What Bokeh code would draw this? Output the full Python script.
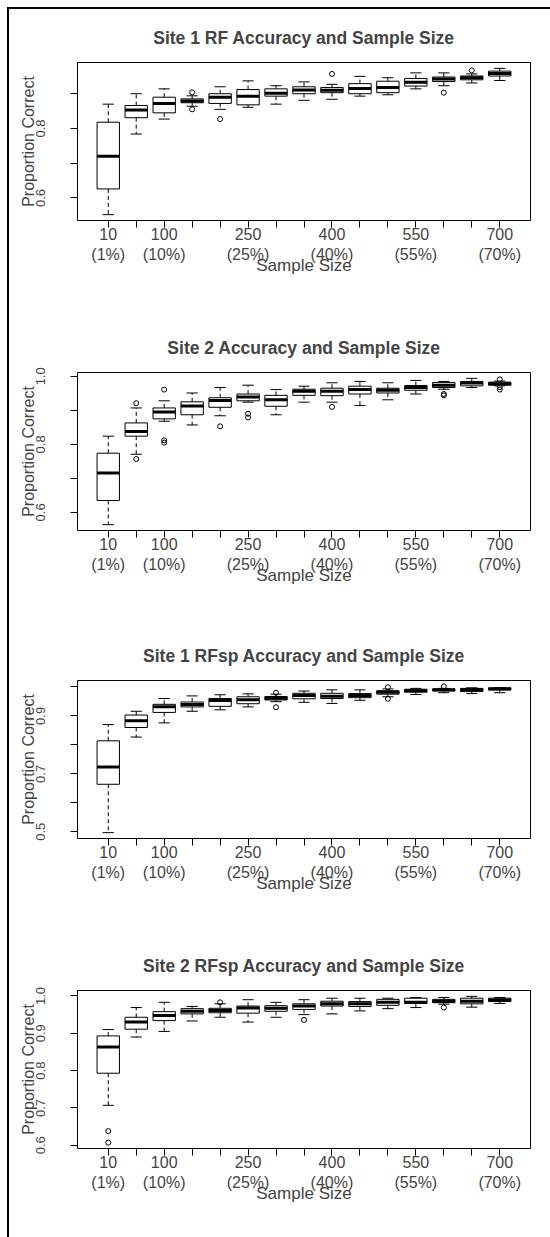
from bokeh.plotting import figure
from bokeh.layouts import column
from bokeh.models import FixedTicker, Range1d
from bokeh.embed import file_html
from bokeh.resources import INLINE

# ---------------- data ----------------
sample_sizes = [10, 50, 100, 150, 200, 250, 300, 350, 400, 450, 500, 550, 600, 650, 700]
labelled_sizes = [10, 100, 250, 400, 550, 700]
population = 1000

# Site 1 RF
s1rf_title = "Site 1 RF Accuracy and Sample Size"
s1rf_low = [0.552, 0.784, 0.827, 0.864, 0.855, 0.861, 0.870, 0.881, 0.884, 0.893, 0.897, 0.914, 0.923, 0.931, 0.938]
s1rf_q1 = [0.626, 0.831, 0.845, 0.874, 0.872, 0.868, 0.893, 0.900, 0.903, 0.900, 0.903, 0.922, 0.935, 0.940, 0.951]
s1rf_med = [0.720, 0.853, 0.872, 0.879, 0.890, 0.893, 0.901, 0.911, 0.910, 0.915, 0.918, 0.933, 0.942, 0.946, 0.958]
s1rf_q3 = [0.818, 0.866, 0.890, 0.885, 0.900, 0.912, 0.914, 0.920, 0.918, 0.929, 0.936, 0.944, 0.948, 0.951, 0.965]
s1rf_high = [0.870, 0.900, 0.914, 0.894, 0.920, 0.937, 0.923, 0.934, 0.927, 0.950, 0.946, 0.960, 0.960, 0.957, 0.973]
s1rf_out_size = [150, 150, 200, 400, 600, 650]
s1rf_out_val = [0.904, 0.855, 0.827, 0.957, 0.903, 0.967]
s1rf_yticks = [0.6, 0.7, 0.8, 0.9]
s1rf_yshown = [0.6, 0.8]

# Site 2 RF
s2rf_title = "Site 2 Accuracy and Sample Size"
s2rf_low = [0.564, 0.771, 0.868, 0.857, 0.884, 0.924, 0.887, 0.924, 0.924, 0.914, 0.931, 0.948, 0.962, 0.967, 0.972]
s2rf_q1 = [0.635, 0.824, 0.875, 0.887, 0.909, 0.928, 0.912, 0.944, 0.943, 0.948, 0.951, 0.959, 0.967, 0.972, 0.974]
s2rf_med = [0.716, 0.838, 0.895, 0.913, 0.929, 0.939, 0.931, 0.956, 0.956, 0.961, 0.959, 0.967, 0.974, 0.980, 0.978]
s2rf_q3 = [0.774, 0.863, 0.907, 0.925, 0.937, 0.948, 0.944, 0.962, 0.965, 0.971, 0.965, 0.973, 0.982, 0.985, 0.983]
s2rf_high = [0.824, 0.907, 0.928, 0.951, 0.967, 0.974, 0.961, 0.971, 0.981, 0.985, 0.981, 0.988, 0.985, 0.994, 0.986]
s2rf_out_size = [50, 50, 100, 100, 100, 200, 250, 250, 400, 600, 600, 700, 700, 700]
s2rf_out_val = [0.921, 0.757, 0.961, 0.812, 0.805, 0.853, 0.890, 0.879, 0.910, 0.948, 0.944, 0.991, 0.968, 0.961]
s2rf_yticks = [0.6, 0.7, 0.8, 0.9, 1.0]
s2rf_yshown = [0.6, 0.8, 1.0]

# Site 1 RFsp
s1sp_title = "Site 1 RFsp Accuracy and Sample Size"
s1sp_low = [0.497, 0.827, 0.876, 0.916, 0.921, 0.931, 0.949, 0.947, 0.943, 0.954, 0.966, 0.974, 0.980, 0.977, 0.980]
s1sp_q1 = [0.664, 0.860, 0.912, 0.931, 0.933, 0.942, 0.955, 0.959, 0.960, 0.963, 0.975, 0.982, 0.986, 0.984, 0.990]
s1sp_med = [0.724, 0.883, 0.932, 0.939, 0.953, 0.956, 0.961, 0.970, 0.968, 0.970, 0.982, 0.987, 0.990, 0.991, 0.993]
s1sp_q3 = [0.814, 0.903, 0.940, 0.948, 0.960, 0.966, 0.967, 0.978, 0.978, 0.977, 0.987, 0.992, 0.993, 0.995, 0.997]
s1sp_high = [0.870, 0.916, 0.960, 0.969, 0.973, 0.976, 0.975, 0.986, 0.990, 0.990, 0.993, 0.995, 0.995, 0.997, 0.998]
s1sp_out_size = [300, 300, 500, 500, 600]
s1sp_out_val = [0.980, 0.930, 0.999, 0.959, 1.002]
s1sp_yticks = [0.5, 0.6, 0.7, 0.8, 0.9, 1.0]
s1sp_yshown = [0.5, 0.7, 0.9]

# Site 2 RFsp
s2sp_title = "Site 2 RFsp Accuracy and Sample Size"
s2sp_low = [0.707, 0.890, 0.905, 0.933, 0.943, 0.930, 0.943, 0.950, 0.952, 0.960, 0.966, 0.969, 0.978, 0.970, 0.980]
s2sp_q1 = [0.793, 0.911, 0.934, 0.952, 0.955, 0.954, 0.959, 0.964, 0.973, 0.972, 0.975, 0.980, 0.982, 0.979, 0.985]
s2sp_med = [0.863, 0.930, 0.948, 0.959, 0.961, 0.968, 0.967, 0.973, 0.979, 0.979, 0.983, 0.983, 0.986, 0.986, 0.989]
s2sp_q3 = [0.893, 0.943, 0.958, 0.966, 0.967, 0.973, 0.974, 0.979, 0.986, 0.985, 0.991, 0.994, 0.991, 0.994, 0.994]
s2sp_high = [0.910, 0.969, 0.983, 0.972, 0.979, 0.990, 0.983, 0.990, 0.994, 0.994, 0.994, 0.996, 0.996, 0.999, 0.996]
s2sp_out_size = [10, 10, 200, 350, 600]
s2sp_out_val = [0.638, 0.607, 0.983, 0.936, 0.969]
s2sp_yticks = [0.6, 0.7, 0.8, 0.9, 1.0]
s2sp_yshown = [0.6, 0.7, 0.8, 0.9, 1.0]

FONT = "Liberation Sans"
FIG_W = 541
FRAME_H = 158
BOX_W = 0.8


def make_panel(title, low, q1, med, q3, high, out_size, out_val, yticks, yshown,
               height, top):
    pos = list(range(1, len(sample_sizes) + 1))
    idx = {s: i + 1 for i, s in enumerate(sample_sizes)}
    out_x = [idx[s] for s in out_size]
    lo = min(low + out_val)
    hi = max(high + out_val)
    ext = 0.04 * (hi - lo)
    n = len(sample_sizes)
    p = figure(width=FIG_W, height=height,
               x_range=Range1d(0.5 - 0.04 * n, n + 0.5 + 0.04 * n),
               y_range=Range1d(lo - ext, hi + ext),
               output_backend="svg", toolbar_location=None,
               min_border_left=68, min_border_right=20,
               min_border_top=top, min_border_bottom=height - top - FRAME_H)
    p.grid.visible = False
    p.outline_line_color = "black"
    p.outline_line_width = 1
    p.background_fill_color = "white"
    p.border_fill_color = "white"

    # whiskers
    p.segment(pos, q3, pos, high, line_color="black", line_width=1, line_dash="4 3")
    p.segment(pos, q1, pos, low, line_color="black", line_width=1, line_dash="4 3")
    # staples
    half = BOX_W / 4
    p.segment([x - half for x in pos], high, [x + half for x in pos], high,
              line_color="black", line_width=1)
    p.segment([x - half for x in pos], low, [x + half for x in pos], low,
              line_color="black", line_width=1)
    # boxes
    p.vbar(x=pos, width=BOX_W, bottom=q1, top=q3, fill_color="white",
           line_color="black", line_width=1)
    # medians
    p.segment([x - BOX_W / 2 for x in pos], med, [x + BOX_W / 2 for x in pos], med,
              line_color="black", line_width=3)
    # outliers
    p.scatter(out_x, out_val, marker="circle", size=5, fill_color=None,
              line_color="black", line_width=1)

    # title
    p.title.text = title
    p.title.align = "center"
    p.title.text_font = FONT
    p.title.text_font_size = "17.5px"
    p.title.text_font_style = "bold"
    p.title.standoff = 29

    # x axis
    xa = p.xaxis[0]
    xa.ticker = FixedTicker(ticks=pos)
    overrides = {}
    for i, s in enumerate(sample_sizes):
        if s in labelled_sizes:
            overrides[i + 1] = f"{s}\n({round(100 * s / population)}%)"
        else:
            overrides[i + 1] = ""
    xa.major_label_overrides = overrides
    xa.axis_label = "Sample Size"
    xa.axis_label_text_font = FONT
    xa.axis_label_text_font_size = "17px"
    xa.axis_label_text_font_style = "normal"
    xa.axis_label_standoff = -10
    xa.major_label_text_font = FONT
    xa.major_label_text_font_size = "16px"
    xa.major_label_standoff = -2
    xa.axis_line_color = None
    xa.major_tick_out = 7
    xa.major_tick_in = 0
    xa.minor_tick_out = 0
    xa.minor_tick_in = 0

    # y axis
    ya = p.yaxis[0]
    ya.ticker = FixedTicker(ticks=yticks)
    ya.major_label_overrides = {t: (f"{t:.1f}" if t in yshown else "") for t in yticks}
    ya.major_label_orientation = "vertical"
    ya.major_label_text_font = FONT
    ya.major_label_text_font_size = "13px"
    ya.major_label_standoff = 25
    ya.axis_label = "Proportion Correct"
    ya.axis_label_text_font = FONT
    ya.axis_label_text_font_size = "16px"
    ya.axis_label_text_font_style = "normal"
    ya.axis_label_standoff = -3
    ya.axis_line_color = None
    ya.major_tick_out = 7
    ya.major_tick_in = 0
    ya.minor_tick_out = 0
    ya.minor_tick_in = 0
    return p


p1 = make_panel(s1rf_title, s1rf_low, s1rf_q1, s1rf_med, s1rf_q3, s1rf_high,
                s1rf_out_size, s1rf_out_val, s1rf_yticks, s1rf_yshown, 309, 53)
p2 = make_panel(s2rf_title, s2rf_low, s2rf_q1, s2rf_med, s2rf_q3, s2rf_high,
                s2rf_out_size, s2rf_out_val, s2rf_yticks, s2rf_yshown, 309, 54)
p3 = make_panel(s1sp_title, s1sp_low, s1sp_q1, s1sp_med, s1sp_q3, s1sp_high,
                s1sp_out_size, s1sp_out_val, s1sp_yticks, s1sp_yshown, 310, 53)
p4 = make_panel(s2sp_title, s2sp_low, s2sp_q1, s2sp_med, s2sp_q3, s2sp_high,
                s2sp_out_size, s2sp_out_val, s2sp_yticks, s2sp_yshown, 300, 53)

layout = column(p1, p2, p3, p4, margin=(7, 0, 0, 7),
                styles={"border-left": "2px solid black", "border-top": "2px solid black"})

open("out.html", "w").write(file_html(layout, INLINE))
